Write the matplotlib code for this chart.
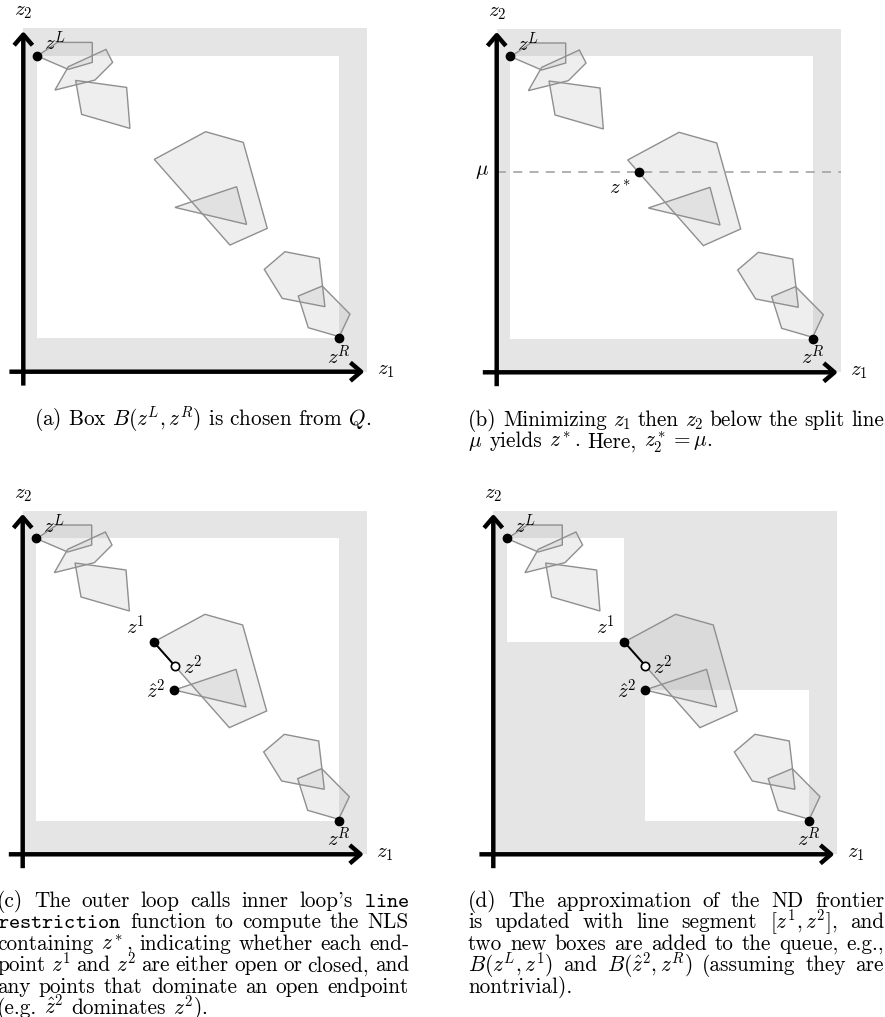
import matplotlib
matplotlib.use('Agg')
import matplotlib.pyplot as plt
from matplotlib.patches import Polygon, Rectangle, FancyArrowPatch

plt.rcParams['mathtext.fontset'] = 'cm'
plt.rcParams['font.family'] = 'cmr10'
plt.rcParams['axes.formatter.use_mathtext'] = True

W, H = 885, 1017
S = 33.33  # pixels per data unit

# objective space data (same in all four panels)
z_L = (0.40, 9.48)
z_R = (9.48, 1.01)
outer = (10.32, 10.31)
mu = 6.0
z_star = (4.27, 6.0)
z_1 = (3.93, 6.37)
z_2 = (4.56, 5.66)
z_2hat = (4.55, 4.93)

polygons = [
    [(0.42, 9.47), (1.02, 9.88), (2.07, 9.88), (2.07, 9.28), (1.35, 9.07)],
    [(1.35, 9.15), (2.48, 9.67), (2.68, 9.28), (2.15, 8.75), (0.95, 8.45)],
    [(1.57, 8.74), (3.10, 8.53), (3.20, 7.30), (1.75, 7.72)],
    [(3.93, 6.37), (5.47, 7.20), (6.60, 6.88), (7.32, 4.30), (6.20, 3.80)],
    [(4.55, 4.93), (6.40, 5.55), (6.70, 4.42)],
    [(7.23, 3.07), (7.85, 3.60), (8.88, 3.40), (9.05, 1.95), (7.77, 2.20)],
    [(8.25, 2.27), (8.97, 2.57), (9.80, 1.73), (9.48, 1.05), (8.55, 1.32)],
]

# axis origins of each panel in figure pixels (x, y from top)
origins = {'a': (23.3, 371.7), 'b': (496.7, 372.3),
           'c': (22.7, 854.3), 'd': (493.3, 854.3)}

GRAY = '#e5e5e5'
LAB = 15

fig = plt.figure(figsize=(W / 100, H / 100), dpi=100)


def make_ax(key):
    ox, oy = origins[key]
    x0, x1, y0, y1 = -0.7, 12.5, -0.9, 11.2
    left = ox + x0 * S
    bottom = oy - y0 * S
    ax = fig.add_axes([left / W, 1 - bottom / H, (x1 - x0) * S / W, (y1 - y0) * S / H])
    ax.set_xlim(x0, x1)
    ax.set_ylim(y0, y1)
    ax.axis('off')
    return ax


def base(ax, boxes):
    ax.add_patch(Rectangle((0, 0), outer[0], outer[1], color=GRAY, lw=0, zorder=0))
    for (xa, ya), (xb, yb) in boxes:
        ax.add_patch(Rectangle((xa, yb), xb - xa, ya - yb, color='white', lw=0, zorder=1))
    for pts in polygons:
        ax.add_patch(Polygon(pts, closed=True, facecolor='#b4b4b4', alpha=0.22,
                             edgecolor='none', zorder=2))
        ax.add_patch(Polygon(pts, closed=True, fill=False, edgecolor='#8f8f8f',
                             lw=1.0, zorder=3))
    for a, b in [((0, -0.5), (0, 10.3)), ((-0.5, 0), (10.32, 0))]:
        ax.add_patch(FancyArrowPatch(a, b, arrowstyle='->,head_length=0.35,head_width=0.3',
                                     mutation_scale=22, lw=3.2, color='black',
                                     capstyle='butt', zorder=5))
    ax.text(0, 10.78, '$z_2$', ha='center', va='center', fontsize=LAB)
    ax.text(10.6, 0.02, '$z_1$', ha='left', va='center', fontsize=LAB)
    ax.plot(*z_L, 'o', color='black', ms=6, zorder=6)
    ax.plot(*z_R, 'o', color='black', ms=6, zorder=6)
    ax.text(0.62, 9.62, '$z^L$', fontsize=LAB, va='baseline', zorder=7)
    ax.text(9.12, 0.22, '$z^R$', fontsize=LAB, va='baseline', zorder=7)


def segment(ax):
    ax.plot([z_1[0], z_2[0]], [z_1[1], z_2[1]], color='black', lw=1.4, zorder=6)
    ax.plot(*z_1, 'o', color='black', ms=6, zorder=7)
    ax.plot(*z_2hat, 'o', color='black', ms=6, zorder=7)
    ax.plot(*z_2, 'o', mfc='white', mec='black', mew=1.2, ms=6, zorder=7)
    ax.text(3.37, 6.82, '$z^1$', fontsize=LAB, ha='center', va='center')
    ax.text(4.80, 5.63, '$z^2$', fontsize=LAB, ha='left', va='center')
    ax.text(4.0, 4.9, r'$\hat{z}^2$', fontsize=LAB, ha='center', va='center')


ax = make_ax('a')
base(ax, [(z_L, z_R)])

ax = make_ax('b')
base(ax, [(z_L, z_R)])
ax.plot([0, outer[0]], [mu, mu], ls=(0, (5, 4)), color='#aaaaaa', lw=1.3, zorder=4)
ax.plot(*z_star, 'o', color='black', ms=6, zorder=7)
ax.text(-0.43, mu, r'$\mu$', fontsize=LAB, ha='center', va='center')
ax.text(3.7, 5.5, '$z^*$', fontsize=LAB, ha='center', va='center')

ax = make_ax('c')
base(ax, [(z_L, z_R)])
segment(ax)

ax = make_ax('d')
base(ax, [(z_L, z_1), (z_2hat, z_R)])
segment(ax)

# captions
CAP = 15.3
renderer = fig.canvas.get_renderer()


def paragraph(lines, x0, x1, y0, dy=21.4):
    sp = fig.text(0, 0, 'a a', fontsize=CAP).get_window_extent(renderer).width - \
        fig.text(0, 0, 'aa', fontsize=CAP).get_window_extent(renderer).width
    for t in fig.texts[-2:]:
        t.remove()
    for i, line in enumerate(lines):
        words = line.split(' ')
        texts = [fig.text(0, 0, w, fontsize=CAP, va='baseline') for w in words]
        widths = [t.get_window_extent(renderer).width for t in texts]
        if i == len(lines) - 1 or len(words) == 1:
            gap = sp
        else:
            gap = (x1 - x0 - sum(widths)) / (len(words) - 1)
        x = x0
        y = y0 + i * dy
        for t, w in zip(texts, widths):
            t.set_position((x / W, 1 - y / H))
            x += w + gap


fig.text(203 / W, 1 - 426 / H, r'(a) Box $B(z^L, z^R)$ is chosen from $Q$.',
         fontsize=CAP, ha='center', va='baseline')

paragraph([r'(b) Minimizing $z_1$ then $z_2$ below the split line',
           r'$\mu$ yields $z^*$. Here, $z_2^*=\mu$.'], 468, 884, 426)

paragraph([r"(c) The outer loop calls inner loop's $\mathtt{line}$",
           r'$\mathtt{restriction}$ function to compute the NLS',
           r'containing $z^*$, indicating whether each end-',
           r'point $z^1$ and $z^2$ are either open or closed, and',
           r'any points that dominate an open endpoint',
           r'(e.g. $\hat{z}^2$ dominates $z^2$).'], -3, 409, 907)

paragraph([r'(d) The approximation of the ND frontier',
           r'is updated with line segment $[z^1,z^2]$, and',
           r'two new boxes are added to the queue, e.g.,',
           r'$B(z^L,z^1)$ and $B(\hat{z}^2,z^R)$ (assuming they are',
           r'nontrivial).'], 468, 884, 907)

fig.savefig('out.png', dpi=100)
